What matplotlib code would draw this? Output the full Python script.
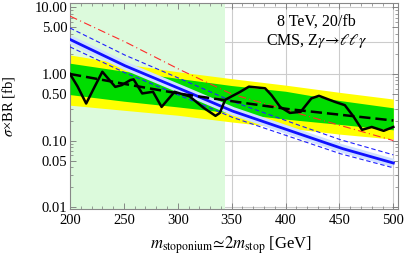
import numpy as np
import matplotlib
matplotlib.use("Agg")
import matplotlib.pyplot as plt
from matplotlib.ticker import FixedLocator, NullFormatter

plt.rcParams['font.family'] = ['Liberation Serif', 'DejaVu Serif']
plt.rcParams['mathtext.fontset'] = 'stix'

# --- data ---
m_grid = [200, 250, 300, 350, 400, 450, 500]
expected = [1.0, 0.71, 0.51, 0.39, 0.30, 0.245, 0.20]
green_hi = [1.45, 1.10, 0.86, 0.67, 0.55, 0.40, 0.31]
green_lo = [0.49, 0.39, 0.32, 0.26, 0.21, 0.175, 0.145]
yellow_hi = [1.93, 1.42, 1.08, 0.85, 0.68, 0.53, 0.42]
yellow_lo = [0.34, 0.285, 0.24, 0.19, 0.155, 0.125, 0.105]

theory = [3.3, 1.35, 0.62, 0.28, 0.148, 0.078, 0.046]
theory_hi = [4.9, 1.95, 0.88, 0.39, 0.20, 0.104, 0.061]
theory_lo = [2.55, 1.06, 0.49, 0.225, 0.12, 0.064, 0.039]
red_curve = [7.4, 3.1, 1.2, 0.50, 0.29, 0.17, 0.10]

m_obs = [200, 207, 215, 223, 230, 242, 248, 256, 259, 267, 277, 285, 297,
         311, 324, 335, 339, 344, 358, 366, 381, 387, 395, 404, 414, 424,
         431, 446, 455, 463, 471, 480, 491, 500]
observed = [1.0, 0.65, 0.36, 0.65, 1.08, 0.64, 0.68, 0.81, 0.83, 0.51, 0.54,
            0.32, 0.54, 0.46, 0.31, 0.235, 0.26, 0.41, 0.54, 0.645, 0.61, 0.48,
            0.32, 0.26, 0.27, 0.43, 0.47, 0.38, 0.34, 0.23, 0.145, 0.16, 0.14,
            0.16]

excluded_max = 344

fig = plt.figure(figsize=(4.07, 2.57), dpi=100)
ax = fig.add_axes([0.172, 0.187, 0.805, 0.80])

# log-interpolate the read points onto a fine grid for smooth curves
mf = np.linspace(200, 500, 301)
def smooth(vals):
    return 10 ** np.interp(mf, m_grid, np.log10(vals))

ax.axvspan(200, excluded_max, color='#dcfadc', zorder=1, lw=0)
ax.fill_between(mf, smooth(yellow_lo), smooth(yellow_hi), color='#ffff00', lw=0, zorder=2)
ax.fill_between(mf, smooth(green_lo), smooth(green_hi), color='#00dd00', lw=0, zorder=3)

th = smooth(theory)
ax.plot(mf, th, color='#cfe0ff', lw=6, zorder=4, solid_capstyle='butt')
ax.plot(mf, smooth(theory_hi), color='#2020ff', lw=0.8, dashes=(4, 2.5), zorder=5)
ax.plot(mf, smooth(theory_lo), color='#2020ff', lw=0.8, dashes=(4, 2.5), zorder=5)
ax.plot(mf, th, color='#1010ff', lw=2.0, zorder=6)
ax.plot(mf, smooth(red_curve), color='#ff2a2a', lw=0.8, dashes=(7, 3, 1, 3), zorder=6)
ax.plot(mf, smooth(expected), color='black', lw=1.8, dashes=(4.5, 2), zorder=7)
ax.plot(m_obs, observed, color='black', lw=1.8, zorder=8)

ax.set_yscale('log')
ax.set_xlim(200, 504)
ax.set_ylim(0.0094, 11.5)

# grid
for gx in [200, 250, 300, 350, 400, 450, 500]:
    ax.axvline(gx, color='#cccccc', lw=0.8, zorder=0)
for gy in [0.01, 0.03, 0.1, 0.3, 1, 3, 10]:
    ax.axhline(gy, color='#cccccc', lw=0.8, zorder=0)

ax.set_xticks([200, 250, 300, 350, 400, 450, 500])
ax.xaxis.set_minor_locator(FixedLocator(np.arange(200, 505, 10)))
yt = [0.01, 0.05, 0.1, 0.5, 1, 5, 10]
ax.yaxis.set_major_locator(FixedLocator(yt))
ax.set_yticklabels(['0.01', '0.05', '0.10', '0.50', '1.00', '5.00', '10.00'])
ymin = [k * 10.0 ** e for e in range(-2, 1) for k in range(2, 10)]
ax.yaxis.set_minor_locator(FixedLocator(ymin))
ax.yaxis.set_minor_formatter(NullFormatter())

ax.tick_params(which='both', direction='in', top=True, right=True,
               color='#777777', labelsize=10.5)
ax.tick_params(axis='x', pad=4)
ax.tick_params(axis='y', pad=2)
ax.tick_params(which='major', length=4, width=0.6)
ax.tick_params(which='minor', length=2, width=0.5)
for s in ax.spines.values():
    s.set_color('#888888')
    s.set_linewidth(0.8)

ax.set_ylabel(r'$\sigma$×BR [fb]', fontsize=10.5)
ax.yaxis.set_label_coords(-0.162, 0.5)
ax.set_xlabel(r'$m_{\mathrm{stoponium}}\!\simeq\!2m_{\mathrm{stop}}$ [GeV]', fontsize=12)
ax.xaxis.set_label_coords(0.492, -0.125)

ax.text(0.752, 0.91, '8 TeV, 20/fb', transform=ax.transAxes, ha='center', va='center', fontsize=11.5)
ax.text(0.752, 0.815, r'CMS, Z$\gamma\!\rightarrow\!\ell\ell\gamma$', transform=ax.transAxes,
        ha='center', va='center', fontsize=11.5)

fig.savefig('out.png', dpi=100)
